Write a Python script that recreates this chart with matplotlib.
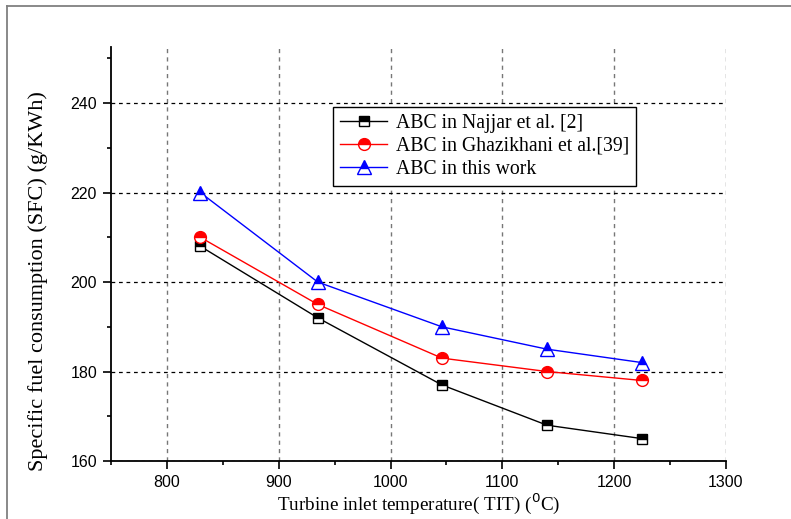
import matplotlib
matplotlib.use("Agg")
import matplotlib.pyplot as plt
from matplotlib.lines import Line2D
from matplotlib.ticker import MultipleLocator

# Turbine inlet temperature (deg C)
tit = [830, 935, 1046, 1140, 1225]

# Specific fuel consumption (g/kWh) for each source
sfc_najjar = [208, 192, 177, 168, 165]
sfc_ghazikhani = [210, 195, 183, 180, 178]
sfc_this_work = [220, 200, 190, 185, 182]

labels = ["ABC in Najjar et al. [2]",
          "ABC in Ghazikhani et al.[39]",
          "ABC in this work"]

serif = ["Liberation Serif", "DejaVu Serif"]
sans = ["Liberation Sans", "DejaVu Sans"]

W, H = 791, 519
fig = plt.figure(figsize=(W / 100, H / 100), dpi=100)
ax = fig.add_axes([111 / W, (H - 461) / H, (726 - 111) / W, (461 - 47.3) / H])

common = dict(lw=1.0, markeredgewidth=1.0, fillstyle="top", markerfacecoloralt="white")
ax.plot(tit, sfc_najjar, color="black", marker="s", ms=7.5, mfc="black",
        mec="black", label=labels[0], **common)
ax.plot(tit, sfc_ghazikhani, color="red", marker="o", ms=8.5, mfc="red",
        mec="red", label=labels[1], **common)
ax.plot(tit, sfc_this_work, color="blue", marker="^", ms=9.5, mfc="blue",
        mec="blue", label=labels[2], **common)

ax.set_xlim(750, 1300)
ax.set_ylim(160, 252.5)
ax.xaxis.set_major_locator(MultipleLocator(100))
ax.xaxis.set_minor_locator(MultipleLocator(50))
ax.yaxis.set_major_locator(MultipleLocator(20))
ax.yaxis.set_minor_locator(MultipleLocator(10))

ax.xaxis.grid(True, which="major", color="#777777", linestyle=(0, (3, 3)), lw=1.0)
ax.yaxis.grid(True, which="major", color="black", linestyle=(0, (3, 3)), lw=0.9)
ax.set_axisbelow(True)

for side in ("top", "right"):
    ax.spines[side].set_visible(False)
for side in ("left", "bottom"):
    ax.spines[side].set_linewidth(1.3)

ax.tick_params(which="major", direction="out", length=6, width=1.2, pad=4)
ax.tick_params(which="minor", direction="out", length=3, width=1.2)
for lab in ax.get_xticklabels() + ax.get_yticklabels():
    lab.set_family(sans)
    lab.set_fontsize(11.5)

ax.set_xlabel("Turbine inlet temperature( TIT) ($^{0}$C)", family=serif,
              fontsize=13.8, labelpad=1)
ax.set_ylabel("Specific fuel consumption (SFC) (g/KWh)", family=serif,
              fontsize=16)
ax.yaxis.set_label_coords(-0.102, 0.435)

leg = ax.legend(loc="upper left", bbox_to_anchor=(0.361, 0.856), borderaxespad=0,
                fancybox=False, edgecolor="black", framealpha=1,
                prop={"family": serif, "size": 14.2}, handlelength=2.4,
                handletextpad=0.45, labelspacing=0.2, borderpad=0.35)
leg.get_frame().set_linewidth(1.0)

# outer frame lines along the top and left of the figure
fig.add_artist(Line2D([7 / W, 1.0], [1 - 6 / H, 1 - 6 / H], transform=fig.transFigure,
                      color="#808080", lw=1.3))
fig.add_artist(Line2D([7 / W, 7 / W], [0, 1 - 6 / H], transform=fig.transFigure,
                      color="#808080", lw=1.3))

fig.savefig("out.png", dpi=100)
